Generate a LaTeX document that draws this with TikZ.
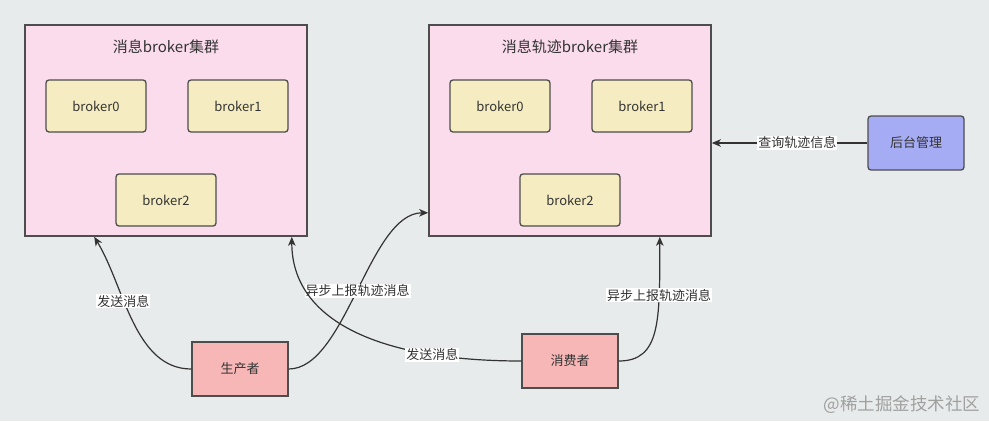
\documentclass[tikz,border=0pt]{standalone}
\usepackage{fontspec}
\usepackage{tikz}
\usetikzlibrary{arrows.meta,calc,positioning}
\newfontfamily\cjkfont{Noto Sans CJK SC}
\definecolor{MQBack}{HTML}{E8EBEB}
\definecolor{MQInk}{HTML}{333333}
\definecolor{MQLine}{HTML}{4D4D4D}
\definecolor{MQPink}{HTML}{FADCEC}
\definecolor{MQCream}{HTML}{F5EDC1}
\definecolor{MQRose}{HTML}{F7B7B7}
\definecolor{MQLilac}{HTML}{A6ACF4}
\definecolor{MQMark}{HTML}{A0A0A0}
\newcommand{\brokercluster}[3]{%
  \node[cluster] (#1) at ({#2 + 141},130.5) {};
  \node[clustertitle] (#1-title) at ({#2 + 141},47) {#3};
  \node[broker] (#1-b0) at ({#2 + 71},106) {broker0};
  \node[broker] (#1-b1) at ({#2 + 213},106) {broker1};
  \node[broker] (#1-b2) at ({#2 + 141},200) {broker2};
}

\begin{document}
\begin{tikzpicture}[x=1pt,y=-1pt,
  every node/.style={text=MQInk, font=\cjkfont\fontsize{13}{15}\selectfont},
  cluster/.style={draw=MQLine, fill=MQPink, line width=1.6pt,
    minimum width=282pt, minimum height=211pt},
  clustertitle/.style={font=\cjkfont\fontsize{15}{18}\selectfont},
  broker/.style={draw=MQLine, fill=MQCream, line width=1.3pt, rounded corners=3pt,
    minimum width=100pt, minimum height=52pt},
  client/.style={draw=MQLine, fill=MQRose, line width=1.4pt,
    minimum width=96pt, minimum height=54pt},
  console/.style={draw=MQLine, fill=MQLilac, line width=1.3pt, rounded corners=3pt,
    minimum width=96pt, minimum height=54pt},
  flow/.style={draw=MQInk, line width=1.2pt,
    -{Stealth[length=9pt,width=7.5pt,inset=2.5pt]}},
  edgelabel/.style={fill=white, inner sep=1pt}]
  \path[use as bounding box, fill=MQBack] (0,0) rectangle (989,421);

  \brokercluster{msg}{25}{消息broker集群}
  \brokercluster{trace}{429}{消息轨迹broker集群}

  \node[client] (prod) at (240,369) {生产者};
  \node[client] (cons) at (570,361) {消费者};
  \node[console] (admin) at (916,143) {后台管理};

  \coordinate (msg-in-a) at ([xshift=70pt]msg.south west);
  \coordinate (msg-in-b) at ([xshift=-16pt]msg.south east);
  \coordinate (trace-in-a) at ([yshift=24pt]trace.south west);
  \coordinate (trace-in-b) at ([xshift=-52pt]trace.south east);

  \draw[flow] (prod.west) .. controls +(-57,0) and +(30,49) .. (msg-in-a)
    node[edgelabel, pos=0.62] (send-a) {发送消息};
  \draw[flow] (prod.east) .. controls +(57,0) and +(-59,0) .. (trace-in-a)
    node[edgelabel, pos=0.5] (report-a) {异步上报轨迹消息};
  \draw[flow] (cons.west) .. controls +(-142,0) and +(0,84) .. (msg-in-b)
    node[edgelabel, pos=0.23] (send-b) {发送消息};
  \draw[flow] (cons.east) .. controls +(42,0) and +(0,84) .. (trace-in-b)
    node[edgelabel, pos=0.73] (report-b) {异步上报轨迹消息};
  \draw[flow] (admin.west) -- (admin.west -| trace.east)
    node[edgelabel, pos=0.45] (query) {查询轨迹信息};

  \node[text=MQMark, font=\cjkfont\fontsize{17.5}{20}\selectfont] (watermark) at (902,405) {@稀土掘金技术社区};
\end{tikzpicture}
\end{document}
